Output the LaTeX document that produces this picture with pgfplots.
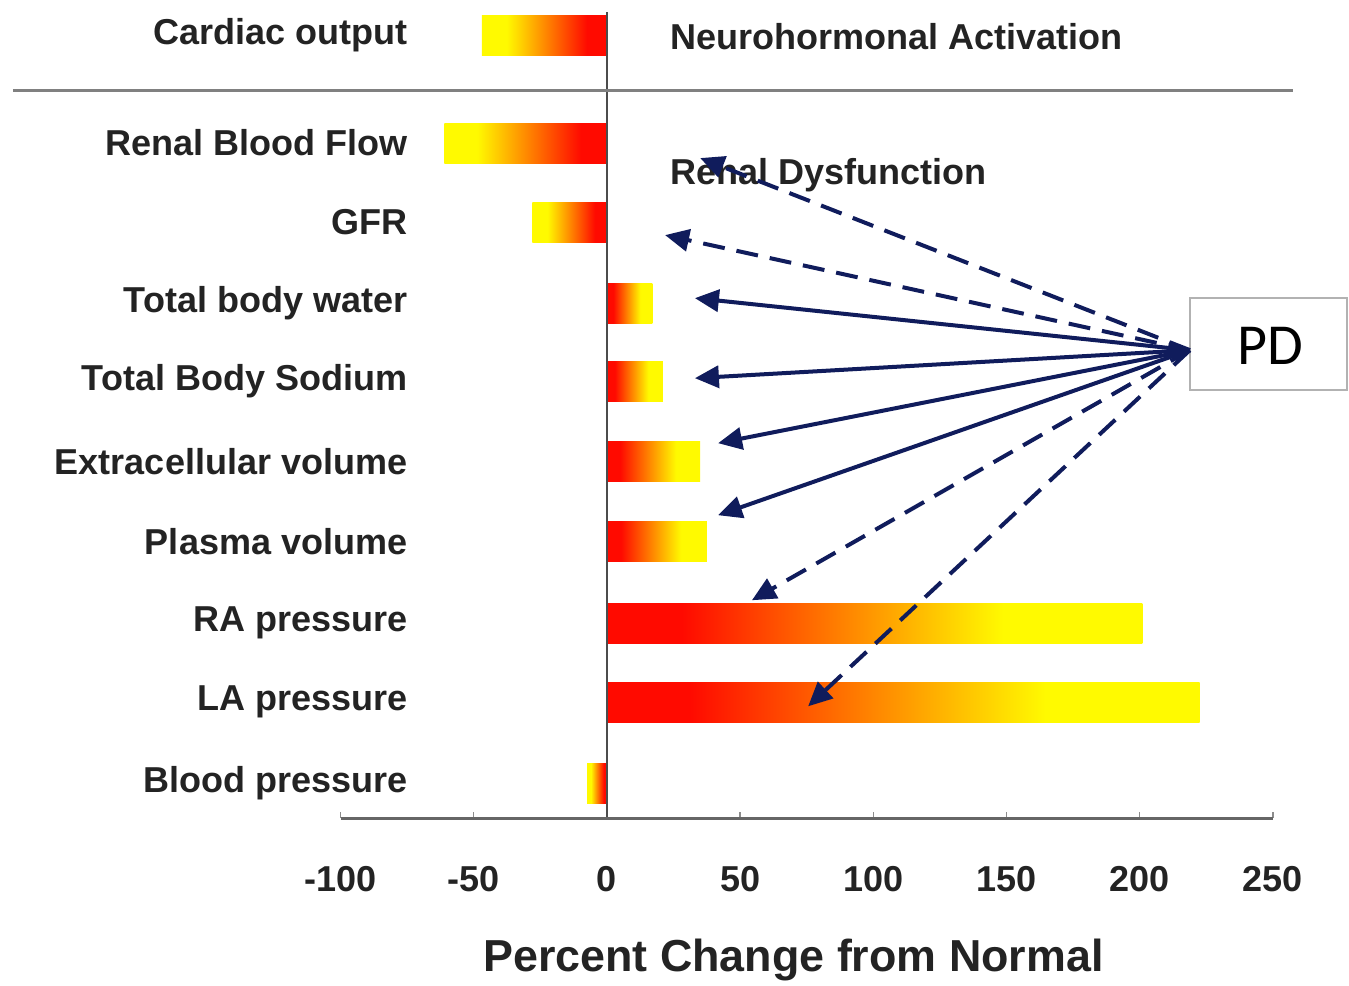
\documentclass[border=0pt]{standalone}
\usepackage{pgfplots}
\pgfplotsset{compat=1.18}
\usepackage{fontspec}
\setmainfont{Liberation Sans}
\newfontfamily\calibri{Carlito}
\usetikzlibrary{arrows.meta}
\definecolor{arrowblue}{RGB}{16,28,92}
\definecolor{txt}{RGB}{35,35,35}
\definecolor{barred}{RGB}{255,10,0}
\definecolor{baryellow}{RGB}{255,250,0}
\pgfdeclarehorizontalshading{posbar}{100bp}{color(0bp)=(barred); color(32bp)=(barred); color(62bp)=(baryellow); color(100bp)=(baryellow)}
\pgfdeclarehorizontalshading{negbar}{100bp}{color(0bp)=(baryellow); color(35bp)=(baryellow); color(67bp)=(barred); color(100bp)=(barred)}
\begin{document}
\begin{tikzpicture}
\begin{axis}[
  scale only axis, width=466pt, height=403pt,
  xmin=-100, xmax=250, ymin=12, ymax=818, y dir=reverse,
  clip=false,
  axis line style={draw=none},
  xbar, bar shift=0pt, bar width=40,
  xtick={-100,-50,...,250}, xtick pos=left, tick align=inside, major tick length=3pt,
  xtick style={draw=black!45, line width=0.7pt},
  ytick={35,143,222,303,381,461,541,623,702,783},
  yticklabels={Cardiac output, Renal Blood Flow, GFR, Total body water, Total Body Sodium, Extracellular volume, Plasma volume, RA pressure, LA pressure, Blood pressure},
  ytick style={draw=none},
  yticklabel style={anchor=east, inner sep=0pt, xshift=33.5pt, font=\bfseries\fontsize{18}{20}\selectfont, text=txt},
  xticklabel style={anchor=north, inner sep=0pt, yshift=-24pt, font=\bfseries\fontsize{18}{20}\selectfont, text=txt},
  /pgf/number format/assume math mode=true,
]
% invisible frame giving the picture the reference proportions
\path (axis cs:-227.85,0) rectangle (axis cs:278.53,985);
% bars (value, category position)
\addplot[draw=none, shade, shading=negbar] coordinates {(-47,35)};
\addplot[draw=none, shade, shading=negbar] coordinates {(-61,143)};
\addplot[draw=none, shade, shading=negbar] coordinates {(-28,222)};
\addplot[draw=none, shade, shading=posbar] coordinates {(17,303)};
\addplot[draw=none, shade, shading=posbar] coordinates {(21,381)};
\addplot[draw=none, shade, shading=posbar] coordinates {(35,461)};
\addplot[draw=none, shade, shading=posbar] coordinates {(37.5,541)};
\addplot[draw=none, shade, shading=posbar] coordinates {(201,623)};
\addplot[draw=none, shade, shading=posbar] coordinates {(222.5,702)};
\addplot[draw=none, shade, shading=negbar] coordinates {(-7.5,783)};
% lines
\draw[black!70, line width=1pt] (axis cs:0,12) -- (axis cs:0,818);
\draw[black!50, line width=1.5pt] (axis cs:-223,90) -- (axis cs:257.5,90);
\draw[black!60, line width=1.5pt] (axis cs:-100,818) -- (axis cs:250,818);
% texts
\node[anchor=west, inner sep=0pt, font=\bfseries\fontsize{18}{20}\selectfont, text=txt] at (axis cs:23.65,37) {Neurohormonal Activation};
\node[anchor=west, inner sep=0pt, font=\bfseries\fontsize{18}{20}\selectfont, text=txt] at (axis cs:23.65,175) {Renal Dysfunction};
\node[inner sep=0pt, font=\bfseries\fontsize{22.4}{24}\selectfont, text=txt] at (axis cs:70,960) {Percent Change from Normal};
% PD box
\draw[black!30, line width=1pt, fill=white] (axis cs:218.8,298) rectangle (axis cs:277.8,390);
\node[inner sep=0pt, font=\calibri\fontsize{29}{30}\selectfont] at (axis cs:248.9,346) {PD};
% arrows
\begin{scope}[arrowblue, line width=2pt, -{Triangle[length=12pt,width=11pt]}]
\draw[dash pattern=on 11pt off 6pt] (axis cs:218.8,350) -- (axis cs:35,158);
\draw[dash pattern=on 11pt off 6pt] (axis cs:218.8,350) -- (axis cs:21.8,235);
\draw (axis cs:218.8,350) -- (axis cs:33,298);
\draw (axis cs:218.8,350) -- (axis cs:33,378);
\draw (axis cs:218.8,350) -- (axis cs:41.7,443);
\draw (axis cs:218.8,350) -- (axis cs:41.7,515);
\draw[dash pattern=on 11pt off 6pt] (axis cs:218.8,350) -- (axis cs:54.4,600);
\draw[dash pattern=on 11pt off 6pt] (axis cs:218.8,350) -- (axis cs:75.5,706);
\end{scope}
\end{axis}
\end{tikzpicture}
\end{document}
